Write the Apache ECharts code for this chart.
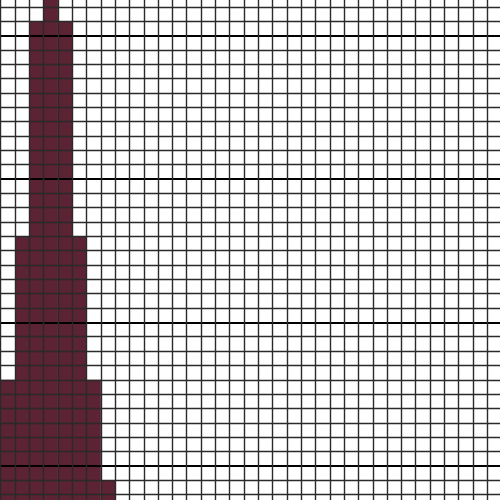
<!DOCTYPE html>
<html>
<head>
<meta charset="utf-8">
<script src="https://cdn.jsdelivr.net/npm/echarts@6/dist/echarts.min.js"></script>
<style>
html,body{margin:0;padding:0;background:#fff;}
#chart{width:500px;height:500px;}
</style>
</head>
<body>
<div id="chart"></div>
<script>
const categories = ['1','2','3','4','5','6','7','8','9','10','11','12','13','14','15','16','17','18','19','20','21','22','23','24','25','26','27','28','29','30','31','32','33','34','35'];
const values = [16,26,41,44,41,26,16,9,0,0,0,0,0,0,0,0,0,0,0,0,0,0,0,0,0,0,0,0,0,0,0,0,0,0,0];
const yMin = 0, yMax = 50, yInterval = 10;

const chart = echarts.init(document.getElementById('chart'), null, {renderer:'canvas'});
chart.setOption({
  animation: false,
  backgroundColor: '#ffffff',
  grid: {left: 0.7, top: -107.8, width: 500.9, height: 717, containLabel: false, outerBoundsMode: 'none'},
  xAxis: {
    type: 'category',
    data: categories,
    z: 5,
    boundaryGap: true,
    axisLine: {show: false},
    axisTick: {show: false},
    axisLabel: {show: false},
    splitLine: {show: true, interval: 0, lineStyle: {color: '#2a2a2a', width: 1.4}}
  },
  yAxis: {
    type: 'value',
    min: yMin, max: yMax, interval: yInterval,
    z: 5,
    axisLine: {show: false},
    axisTick: {show: false},
    axisLabel: {show: false},
    splitLine: {show: true, lineStyle: {color: '#000', width: 2.2}},
    minorTick: {show: false, splitNumber: 10},
    minorSplitLine: {show: true, lineStyle: {color: '#2a2a2a', width: 1.4}}
  },
  series: [{
    type: 'bar',
    data: values,
    barCategoryGap: '0%',
    itemStyle: {color: '#5c2334'},
    z: 2
  }]
});
</script>
</body>
</html>
